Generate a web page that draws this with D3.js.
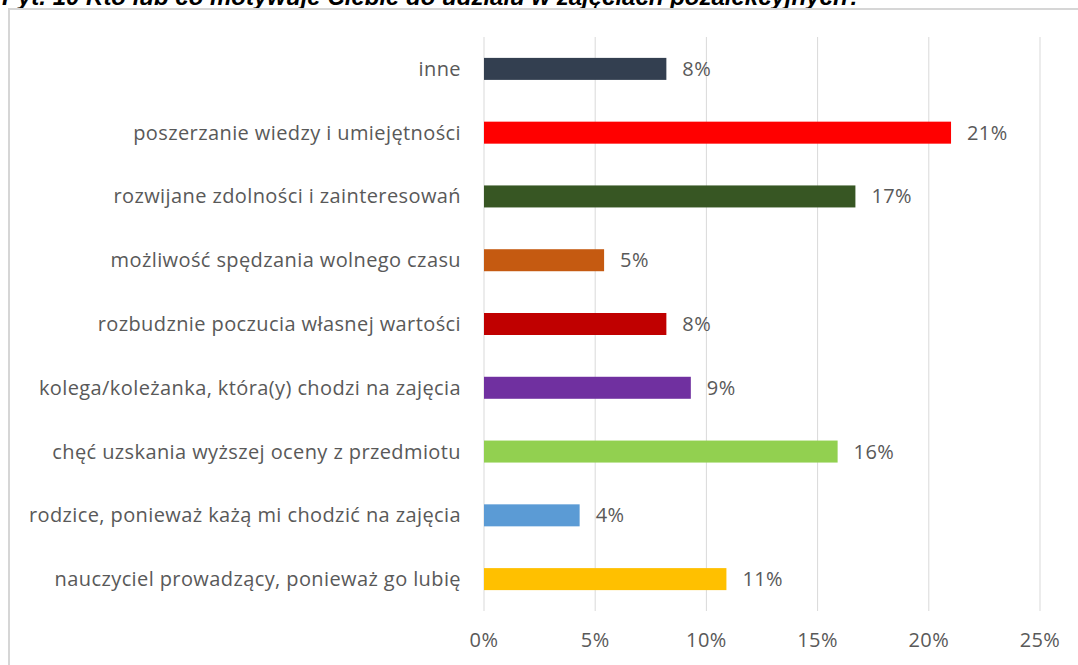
<!DOCTYPE html>
<html>
<head>
<meta charset="utf-8">
<script src="https://cdn.jsdelivr.net/npm/d3@7"></script>
<style>
  body { margin: 0; background: #fff; }
  text { font-family: 'Open Sans', sans-serif; }
</style>
</head>
<body>
<svg id="chart" width="1078" height="665"></svg>
<script>
const categories = [
  'inne',
  'poszerzanie wiedzy i umiejętności',
  'rozwijane zdolności i zainteresowań',
  'możliwość spędzania wolnego czasu',
  'rozbudznie poczucia własnej wartości',
  'kolega/koleżanka, która(y) chodzi na zajęcia',
  'chęć uzskania wyższej oceny z przedmiotu',
  'rodzice, ponieważ każą mi chodzić na zajęcia',
  'nauczyciel prowadzący, ponieważ go lubię'
]
const values = [8.2, 21.0, 16.7, 5.4, 8.2, 9.3, 15.9, 4.3, 10.9]
const colors = ['#333f50', '#ff0000', '#375623', '#c55a11', '#c00000', '#7030a0', '#92d050', '#5b9bd5', '#ffc000']
const xTicks = [0, 5, 10, 15, 20, 25]
const title = 'Pyt. 10 Kto lub co motywuje Ciebie do udziału w zajęciach pozalekcyjnych?'

const svg = d3.select('#chart')

// title, clipped at the top edge as in the source
svg.append('text')
  .attr('x', 2)
  .attr('y', 5)
  .style('font-family', 'Liberation Sans, Arial, sans-serif')
  .style('font-weight', 'bold')
  .style('font-style', 'italic')
  .style('font-size', '24px')
  .attr('fill', '#000')
  .text(title)

// chart frame
svg.append('rect')
  .attr('x', 9)
  .attr('y', 9)
  .attr('width', 1200)
  .attr('height', 800)
  .attr('fill', 'none')
  .attr('stroke', '#d6d6d6')
  .attr('stroke-width', 2)

const x = d3.scaleLinear().domain([0, 25]).range([484, 1040])
const y = d3.scaleBand().domain(categories).range([37, 611]).paddingInner(0.655).paddingOuter(0.3275)

const g = svg.append('g')
  .style('font-size', '20px')
  .style('letter-spacing', '0.4px')

// grid lines
g.append('g')
  .selectAll('line')
  .data(xTicks)
  .join('line')
  .attr('x1', d => x(d))
  .attr('x2', d => x(d))
  .attr('y1', 37)
  .attr('y2', 611)
  .attr('stroke', '#d9d9d9')
  .attr('stroke-width', 1)

// x tick labels
g.append('g')
  .selectAll('text')
  .data(xTicks)
  .join('text')
  .attr('x', d => x(d))
  .attr('y', 647)
  .attr('text-anchor', 'middle')
  .attr('fill', '#595959')
  .text(d => d + '%')

// bars
g.append('g')
  .selectAll('rect')
  .data(values)
  .join('rect')
  .attr('x', x(0))
  .attr('y', (d, i) => y(categories[i]))
  .attr('width', d => x(d) - x(0))
  .attr('height', y.bandwidth())
  .attr('fill', (d, i) => colors[i])

// value labels
g.append('g')
  .selectAll('text')
  .data(values)
  .join('text')
  .attr('x', d => x(d) + 16)
  .attr('y', (d, i) => y(categories[i]) + y.bandwidth() / 2)
  .attr('dy', '0.35em')
  .attr('fill', '#595959')
  .text(d => Math.round(d) + '%')

// category labels
g.append('g')
  .selectAll('text')
  .data(categories)
  .join('text')
  .attr('x', 461)
  .attr('y', d => y(d) + y.bandwidth() / 2)
  .attr('dy', '0.35em')
  .attr('text-anchor', 'end')
  .attr('fill', '#595959')
  .text(d => d)
</script>
</body>
</html>
